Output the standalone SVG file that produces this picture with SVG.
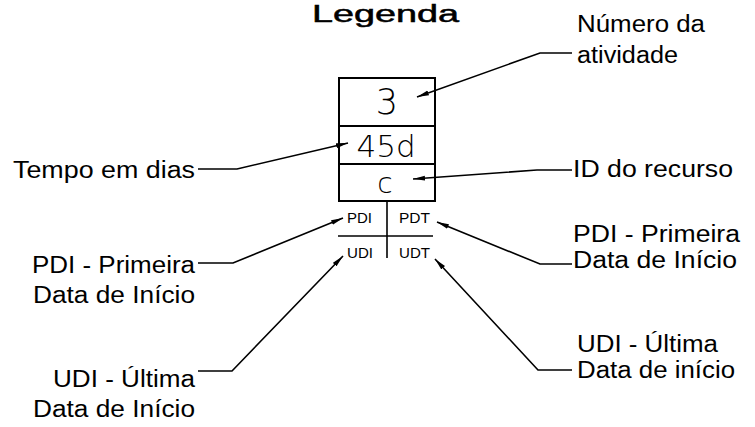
<svg xmlns="http://www.w3.org/2000/svg" width="755" height="427" viewBox="0 0 755 427">
<style>
.lbl{font-family:"Liberation Sans",Arial,sans-serif;font-size:23px;fill:#000}
.cad{font-family:"DejaVu Sans",sans-serif;font-weight:200;fill:#000;text-anchor:middle}
.small{font-family:"Liberation Sans",Arial,sans-serif;font-size:14px;fill:#000}
.ln{fill:none;stroke:#000;stroke-width:1.6}
.box{fill:#fff;stroke:#000;stroke-width:2}
</style>
<defs>
<marker id="ah" viewBox="0 0 12 6" refX="12" refY="3" markerWidth="12" markerHeight="6" markerUnits="userSpaceOnUse" orient="auto">
<path d="M0,0.5 L12,3 L0,5.5 Z" fill="#000"/>
</marker>
</defs>
<rect width="755" height="427" fill="#fff"/>
<text class="lbl" x="312" y="22" font-size="25" stroke="#000" stroke-width="0.5" textLength="147" lengthAdjust="spacingAndGlyphs">Legenda</text>

<g id="node-box">
<rect class="box" x="339" y="78" width="96" height="123"/>
<line class="box" x1="339" y1="126" x2="435" y2="126"/>
<line class="box" x1="339" y1="164" x2="435" y2="164"/>
<text class="cad" x="387" y="114" font-size="35">3</text>
<text class="cad" x="386" y="157" font-size="31">45d</text>
<text class="cad" x="385" y="193" font-size="28">c</text>
</g>
<g id="node-dates">
<line class="ln" x1="387" y1="201" x2="387" y2="258"/>
<line class="ln" x1="338" y1="236" x2="433" y2="236"/>
<text class="small" x="347" y="223" textLength="25" lengthAdjust="spacingAndGlyphs">PDI</text>
<text class="small" x="399" y="223" textLength="31" lengthAdjust="spacingAndGlyphs">PDT</text>
<text class="small" x="347" y="258" textLength="26" lengthAdjust="spacingAndGlyphs">UDI</text>
<text class="small" x="399" y="258" textLength="31" lengthAdjust="spacingAndGlyphs">UDT</text>
</g>

<g id="label-numero">
<text class="lbl" x="577" y="32" textLength="128" lengthAdjust="spacingAndGlyphs">Número da</text>
<text class="lbl" x="577" y="63" textLength="101" lengthAdjust="spacingAndGlyphs">atividade</text>
</g>
<g id="label-tempo">
<text class="lbl" x="195" y="178" text-anchor="end" textLength="182" lengthAdjust="spacingAndGlyphs">Tempo em dias</text>
</g>
<g id="label-recurso">
<text class="lbl" x="573" y="177" textLength="160" lengthAdjust="spacingAndGlyphs">ID do recurso</text>
</g>
<g id="label-pdt">
<text class="lbl" x="573" y="242" textLength="167" lengthAdjust="spacingAndGlyphs">PDI - Primeira</text>
<text class="lbl" x="573" y="268" textLength="164" lengthAdjust="spacingAndGlyphs">Data de Início</text>
</g>
<g id="label-pdi">
<text class="lbl" x="195" y="273" text-anchor="end" textLength="163" lengthAdjust="spacingAndGlyphs">PDI - Primeira</text>
<text class="lbl" x="195" y="303" text-anchor="end" textLength="162" lengthAdjust="spacingAndGlyphs">Data de Início</text>
</g>
<g id="label-udi">
<text class="lbl" x="195" y="387" text-anchor="end" textLength="142" lengthAdjust="spacingAndGlyphs">UDI - Última</text>
<text class="lbl" x="195" y="417" text-anchor="end" textLength="162" lengthAdjust="spacingAndGlyphs">Data de Início</text>
</g>
<g id="label-udt">
<text class="lbl" x="577" y="352" textLength="141" lengthAdjust="spacingAndGlyphs">UDI - Última</text>
<text class="lbl" x="577" y="378" textLength="158" lengthAdjust="spacingAndGlyphs">Data de início</text>
</g>

<g id="connectors">
<polyline class="ln" points="572,53 540,53 417,97" marker-end="url(#ah)"/>
<polyline class="ln" points="198,169 237,169 348,143" marker-end="url(#ah)"/>
<polyline class="ln" points="572,170 537,170 413,179" marker-end="url(#ah)"/>
<polyline class="ln" points="572,264 540,264 437,222" marker-end="url(#ah)"/>
<polyline class="ln" points="198,263 233,263 343,218" marker-end="url(#ah)"/>
<polyline class="ln" points="198,371 232,371 343,256" marker-end="url(#ah)"/>
<polyline class="ln" points="572,370 538,370 435,259" marker-end="url(#ah)"/>
</g>
</svg>
